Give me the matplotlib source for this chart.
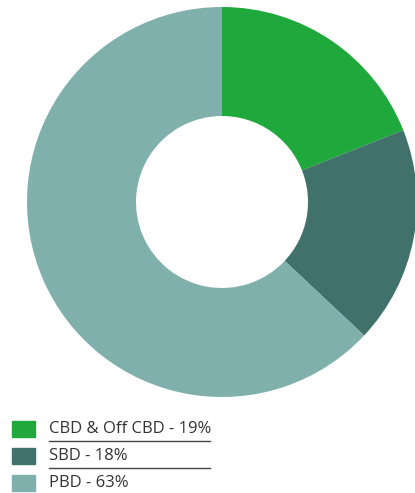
import matplotlib.pyplot as plt
from matplotlib.patches import Rectangle
from matplotlib.lines import Line2D

# data
labels = ["CBD & Off CBD", "SBD", "PBD"]
shares = [19, 18, 63]
colors = ["#1fa83c", "#41716b", "#80b0ac"]

W, H = 415, 493
fig = plt.figure(figsize=(W / 100, H / 100), dpi=100)

# donut, centre at (222, 202) px, radius 195 px
cx, cy, r = 222, 202, 195
ax = fig.add_axes([(cx - r) / W, (H - cy - r) / H, 2 * r / W, 2 * r / H])
ax.pie(shares, colors=colors, startangle=90, counterclock=False,
       wedgeprops=dict(width=1 - 86 / 195, linewidth=0))
ax.set_aspect("equal")
ax.set_xlim(-1, 1)
ax.set_ylim(-1, 1)
ax.axis("off")

# legend, drawn by hand
row_y = [429, 456, 483]
for i, (lab, val, col) in enumerate(zip(labels, shares, colors)):
    y = row_y[i]
    fig.patches.append(Rectangle((12 / W, (H - y - 8) / H), 23 / W, 16 / H,
                                 transform=fig.transFigure, color=col))
    fig.text(49 / W, (H - y) / H, f"{lab} - {val}%", fontsize=12,
             family="Open Sans", color="#333333", va="center", ha="left")
    if i < len(labels) - 1:
        ly = y + 12
        fig.lines.append(Line2D([49 / W, 210 / W], [(H - ly) / H] * 2,
                                transform=fig.transFigure, color="#444444", lw=1))

fig.savefig("out.png", dpi=100)
